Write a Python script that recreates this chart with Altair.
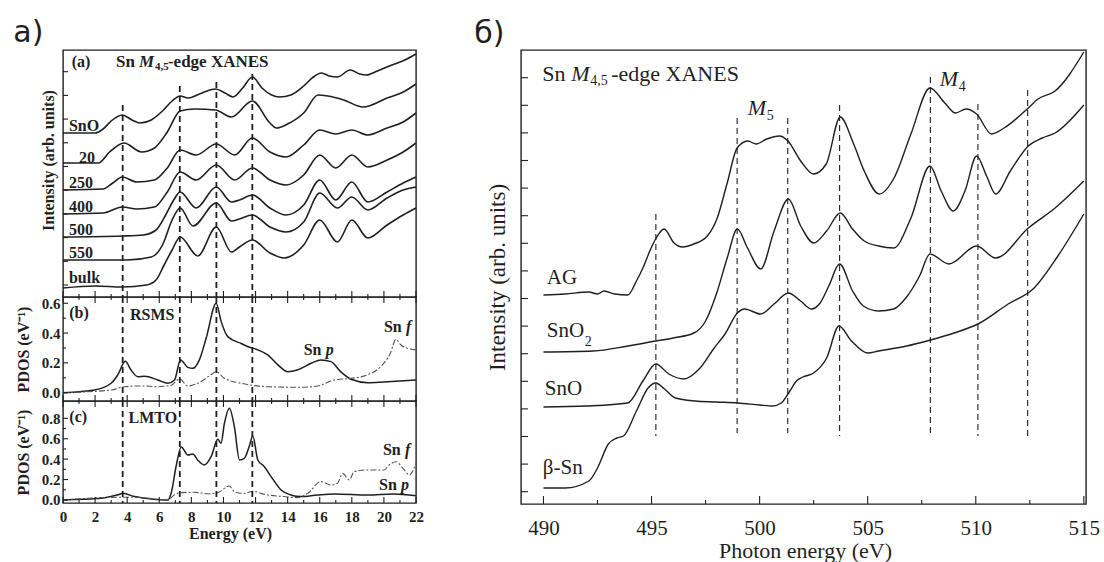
import altair as alt
import pandas as pd

# ---------------- a) (a): Sn M4,5-edge XANES, energy (eV) -> intensity (arb. units)
A_NAMES = ["SnO", "20", "250", "400", "500", "550", "bulk"]
A_SNO_E = [0, 1, 2, 2.5, 3, 3.7, 4.3, 4.8, 5.5, 6.2, 6.8, 7.3, 7.8, 8.5, 9.5, 10.1, 10.6, 11.2, 11.8, 12.4, 13, 13.5, 14.2, 15, 15.6, 16.1, 16.6, 17.1, 17.9, 18.5, 18.9, 19.6, 20.5, 21.3, 22]
A_SNO_I = [164, 164, 164, 168, 176, 182, 177, 174, 177, 186, 196, 201, 199, 203, 208, 204, 200, 209, 220, 209, 202, 200, 202, 211, 220, 224, 221, 220, 227, 223, 222, 226, 232, 237, 243]
A_20_E = [0, 2.2, 2.9, 3.8, 4.9, 5.7, 6.5, 7.3, 8.2, 9.5, 10.5, 11.8, 12.9, 13.3, 14, 15, 15.9, 16.5, 17.5, 18.7, 20.2, 21.2, 22]
A_20_I = [134, 134, 145, 154, 145, 149, 165, 186, 188, 187, 180, 196, 174, 169, 173, 184, 202, 201, 197, 190, 199, 205, 213]
A_250_E = [0, 2.5, 3.1, 3.7, 4.6, 5.7, 6.5, 7.3, 8.3, 9.55, 10.7, 11.8, 12.9, 13.9, 15, 16, 17, 18, 19, 20.2, 21.2, 22]
A_250_I = [107, 108, 114, 120, 115, 117, 129, 147, 142, 153, 142, 159, 145, 140, 152, 167, 163, 167, 162, 169, 175, 184]
A_400_E = [0, 2.5, 3.7, 4.6, 5.7, 6.5, 7.3, 8.3, 9.55, 10.7, 11.8, 12.9, 13.9, 15, 16, 17, 18, 19, 20.2, 21.2, 22]
A_400_I = [83, 84, 90, 88, 90, 105, 125, 117, 132, 117, 129, 117, 112, 122, 142, 129, 142, 130, 137, 145, 154]
A_500_E = [0, 3.7, 5, 5.8, 6.4, 6.9, 7.3, 8.3, 9.55, 10.5, 11, 11.8, 12.9, 13.9, 15, 16, 17, 18, 19, 20.2, 21.2, 22]
A_500_I = [60, 61, 62, 67, 82, 97, 105, 89, 110, 95, 97, 102, 89, 82, 92, 117, 97, 115, 95, 105, 114, 120]
A_550_E = [0, 4, 5.5, 6.2, 6.8, 7.3, 8.1, 9.55, 10.5, 11, 11.8, 12.9, 13.9, 15, 16, 17.1, 18, 19, 20.2, 21.2, 22]
A_550_I = [37, 37, 40, 52, 77, 89, 71, 94, 76, 78, 82, 70, 65, 75, 104, 89, 100, 87, 99, 107, 110]
A_BULK_E = [0, 2, 3.7, 5.2, 5.8, 6.3, 6.8, 7.3, 8.4, 9.55, 10.5, 11, 11.8, 12.9, 13.8, 15, 16, 17.1, 18, 19, 20.2, 21.2, 22]
A_BULK_I = [9, 11, 10, 12, 17, 32, 47, 60, 41, 70, 45, 50, 57, 44, 39, 52, 77, 55, 77, 59, 72, 82, 89]
A_LABEL_E = [0.37, 1.0, 0.37, 0.37, 0.37, 0.37, 0.37]
A_LABEL_I = [171, 139, 114, 90, 67, 44, 19]
A_YTICKS = [12, 35.7, 59.4, 83.1, 106.8, 130.5, 154.2, 177.9, 201.6, 225.3]

# dashed guide lines (left figure)
L_DASH_E = [3.72, 7.28, 9.56, 11.8]
L_DASH_TOP = [192, 211, 215, 223]

# ---------------- a) (b): RSMS PDOS (eV^-1)
B_P_E = [0, 1.97, 3.0, 3.42, 3.88, 4.25, 4.67, 5.08, 5.91, 6.54, 6.95, 7.32, 7.78, 8.09, 8.5, 8.92, 9.55, 9.85, 10.27, 11.1, 11.5, 12.14, 12.76, 13.4, 14.0, 14.6, 15.46, 16.08, 16.7, 17.3, 17.95, 19.0, 20.0, 22.0]
B_P = [0.0, 0.018, 0.063, 0.12, 0.21, 0.15, 0.107, 0.11, 0.085, 0.063, 0.085, 0.22, 0.17, 0.163, 0.22, 0.365, 0.6, 0.48, 0.376, 0.33, 0.31, 0.287, 0.253, 0.186, 0.141, 0.152, 0.197, 0.22, 0.208, 0.141, 0.09, 0.067, 0.072, 0.085]
B_F_E = [0, 3.0, 3.84, 4.88, 5.9, 6.74, 7.26, 7.78, 8.4, 9.23, 9.54, 10.06, 11.1, 12.76, 14.83, 15.87, 16.9, 17.95, 19.0, 19.8, 20.4, 20.75, 21.06, 21.47, 22.0]
B_F = [0.0, 0.018, 0.04, 0.045, 0.04, 0.05, 0.092, 0.045, 0.063, 0.12, 0.141, 0.096, 0.063, 0.04, 0.036, 0.045, 0.085, 0.096, 0.12, 0.175, 0.264, 0.358, 0.32, 0.298, 0.287]

# ---------------- a) (c): LMTO PDOS (eV^-1)
C_P_E = [0, 2.4, 3.42, 3.73, 4.46, 5.5, 6.54, 6.74, 7.05, 7.37, 7.78, 8.09, 8.4, 8.82, 9.23, 9.65, 9.85, 10.06, 10.37, 10.68, 11.0, 11.3, 11.6, 11.83, 12.14, 12.55, 12.97, 13.59, 14.2, 14.8, 15.87, 16.9, 19.0, 20.6, 22.0]
C_P = [0.0, 0.016, 0.05, 0.065, 0.033, 0.01, 0.0, 0.065, 0.33, 0.52, 0.44, 0.45, 0.39, 0.343, 0.424, 0.594, 0.555, 0.75, 0.9, 0.718, 0.392, 0.408, 0.522, 0.627, 0.392, 0.326, 0.228, 0.098, 0.049, 0.033, 0.049, 0.059, 0.049, 0.059, 0.04]
C_F_E = [0, 3.42, 4.46, 6.54, 6.95, 7.37, 8.2, 9.03, 9.65, 10.37, 10.68, 11.3, 11.83, 12.55, 13.8, 14.6, 15.25, 16.08, 16.7, 17.1, 17.43, 17.84, 18.15, 19.0, 20.0, 20.33, 20.75, 21.27, 21.58, 22.0]
C_F = [0.0, 0.026, 0.026, 0.0, 0.05, 0.072, 0.075, 0.06, 0.072, 0.137, 0.08, 0.065, 0.085, 0.055, 0.033, 0.023, 0.065, 0.18, 0.147, 0.163, 0.26, 0.196, 0.278, 0.294, 0.294, 0.343, 0.375, 0.294, 0.245, 0.36]

# ---------------- б): Sn M4,5-edge XANES, photon energy (eV) -> intensity (arb. units)
R_NAMES = ["AG", "SnO2", "SnO", "β-Sn"]
R_AG_E = [490, 491, 492.1, 492.5, 492.8, 493.3, 493.9, 494.3, 494.6, 494.98, 495.19, 495.58, 496.04, 496.43, 496.96, 497.58, 498.04, 498.5, 498.96, 499.45, 499.84, 500.33, 500.92, 501.31, 501.9, 502.49, 503.08, 503.73, 504.35, 504.84, 505.53, 506.22, 507.0, 507.88, 508.57, 509.06, 509.55, 510.04, 510.73, 511.31, 512.43, 512.88, 513.67, 515.0]
R_AG_I = [209, 210, 212, 210, 213, 210, 209, 223, 236, 256, 265, 275, 261, 257, 260, 268, 286, 321, 356, 363, 360, 365, 368, 363, 343, 330, 340, 387, 360, 333, 310, 326, 370, 416, 401, 391, 395, 390, 370, 376, 396, 405, 413, 452]
R_SNO2_E = [490, 492.3, 493.9, 495.2, 496.0, 496.96, 497.5, 498.0, 498.5, 498.97, 499.44, 500.05, 500.67, 501.33, 501.9, 502.5, 503.1, 503.73, 504.3, 504.84, 505.5, 506.2, 507.0, 507.88, 508.4, 508.96, 509.5, 510.04, 510.5, 510.92, 511.6, 512.43, 513.08, 513.67, 515.0]
R_SNO2_I = [152, 153, 158, 163, 166, 171, 183, 210, 246, 275, 256, 235, 273, 305, 278, 261, 273, 291, 275, 263, 258, 256, 286, 338, 313, 293, 313, 348, 328, 310, 333, 358, 366, 371, 399]
R_SNO_E = [490, 492, 493.9, 494.6, 495.2, 495.8, 496.5, 497.2, 497.9, 498.4, 498.97, 499.3, 500.05, 500.67, 501.33, 501.9, 502.4, 502.8, 503.2, 503.7, 504.3, 504.8, 505.5, 506.2, 506.8, 507.4, 507.88, 508.76, 510.04, 510.92, 512.43, 513.67, 515.0]
R_SNO_I = [97, 98, 101, 123, 140, 130, 125, 135, 156, 170, 191, 195, 190, 200, 211, 203, 195, 201, 218, 240, 213, 198, 193, 195, 207, 228, 250, 240, 258, 246, 276, 296, 323]
R_BSN_E = [490, 491, 492.1, 492.5, 493.0, 493.4, 493.7, 494.3, 494.84, 495.2, 495.6, 496.1, 497, 498, 499, 500, 500.6, 501.0, 501.4, 501.7, 502.0, 502.5, 503.1, 503.67, 504.25, 505.0, 505.5, 506.8, 507.9, 509, 510.1, 511.5, 512.7, 513.8, 515.0]
R_BSN_I = [16, 16, 23, 36, 60, 66, 68, 93, 116, 121, 115, 106, 103, 102, 101, 99, 98, 101, 113, 123, 127, 131, 146, 178, 163, 151, 153, 158, 164, 171, 180, 200, 216, 248, 290]
R_YTICKS = [12.3, 39.9, 67.5, 95.1, 122.7, 150.3, 177.9, 205.5, 233.1, 260.7, 288.3, 315.9, 343.5, 371.1, 398.7, 426.3]
R_DASH_E = [495.2, 498.96, 501.3, 503.7, 507.9, 510.1, 512.4]
R_DASH_TOP = [290, 386, 386, 399, 427, 400, 414]
R_DASH_BOT = [68, 71, 71, 68, 71, 68, 68]

SERIF = "Liberation Serif"
SANS = "DejaVu Sans"
INK = "#1f1f1f"
GREY = "#555555"

WL, HA, HB, HC = 353, 247, 104, 102
WR, HR = 565, 454

LX = alt.Scale(domain=[0, 22], nice=False, zero=False)
YA = alt.Scale(domain=[0, 247], nice=False, zero=False)
YB = alt.Scale(domain=[-0.056, 0.642], nice=False, zero=False)
YC = alt.Scale(domain=[-0.03, 0.97], nice=False, zero=False)
RX = alt.Scale(domain=[488.96, 515.1], nice=False, zero=False)
RY = alt.Scale(domain=[0, 454], nice=False, zero=False)


def long_df(names, es, vs):
    rows = []
    for n, e_list, v_list in zip(names, es, vs):
        for e, v in zip(e_list, v_list):
            rows.append({"s": n, "E": e, "v": v})
    return pd.DataFrame(rows)


def txt(rows, X, Y, size, weight="normal", style="normal", align="left", dx=0, dy=0, font=SERIF):
    df = pd.DataFrame(rows, columns=["E", "v", "t"])
    return alt.Chart(df).mark_text(font=font, fontSize=size, fontWeight=weight, fontStyle=style,
                                   align=align, baseline="middle", dx=dx, dy=dy, color=INK).encode(
        x=X, y=Y, text="t:N")


def xticks(vals, X, y_from, y_to, w=1.1):
    return alt.Chart(pd.DataFrame({"E": vals})).mark_rule(color=INK, strokeWidth=w).encode(
        x=X, y=alt.value(y_from), y2=alt.value(y_to))


def yticks(vals, Y, length, w=1.1):
    return alt.Chart(pd.DataFrame({"v": vals})).mark_rule(color=INK, strokeWidth=w).encode(
        y=Y, x=alt.value(0), x2=alt.value(length))


EVEN = list(range(0, 23, 2))
ODD = list(range(1, 22, 2))

# ---------- panel (a)
XA = alt.X("E:Q", scale=LX, axis=None)
YAe = alt.Y("v:Q", scale=YA, axis=alt.Axis(title="Intensity (arb. units)", labels=False, ticks=False,
                                           domain=False, grid=False, titleFont=SERIF, titleFontSize=16,
                                           titleFontWeight="bold", titleColor=INK, titleX=-15, titleY=110,
                                           titleAngle=270, titleBaseline="middle", titleAlign="center"))
a_df = long_df(A_NAMES, [A_SNO_E, A_20_E, A_250_E, A_400_E, A_500_E, A_550_E, A_BULK_E],
               [A_SNO_I, A_20_I, A_250_I, A_400_I, A_500_I, A_550_I, A_BULK_I])
a_lines = alt.Chart(a_df).mark_line(color=INK, strokeWidth=1.6, interpolate="monotone").encode(
    x=XA, y=YAe, detail="s:N")
a_dash = alt.Chart(pd.DataFrame({"E": L_DASH_E, "v": L_DASH_TOP})).mark_rule(
    color=INK, strokeWidth=1.8, strokeDash=[6, 4]).encode(x=XA, y=YAe, y2=alt.datum(0))
a_layers = [
    a_lines, a_dash,
    yticks(A_YTICKS, YAe, 5),
    xticks(EVEN, XA, HA, HA - 6), xticks(ODD, XA, HA, HA - 3),
    txt(list(zip(A_LABEL_E, A_LABEL_I, A_NAMES)), XA, YAe, 16, "bold"),
    txt([(1.12, 235, "(a)")], XA, YAe, 16, "bold", align="center"),
    txt([(3.3, 235, "Sn")], XA, YAe, 17, "bold"),
    txt([(3.3, 235, "M")], XA, YAe, 17, "bold", "italic", dx=23),
    txt([(3.3, 235, "4,5")], XA, YAe, 11, "bold", dx=39, dy=5),
    txt([(3.3, 235, "-edge XANES")], XA, YAe, 17, "bold", dx=52),
    txt([(-3.1, 264, "a)")], XA, YAe, 30, font=SANS),
]
panel_a = alt.layer(*a_layers).properties(width=WL, height=HA)

# ---------- panel (b)
XB = alt.X("E:Q", scale=LX, axis=None)
YBe = alt.Y("v:Q", scale=YB, axis=alt.Axis(values=[0, 0.2, 0.4, 0.6], format=".1f", labelFont=SERIF,
                                           labelFontSize=15, labelFontWeight="bold", labelColor=INK,
                                           labelPadding=3, ticks=False, domain=False, grid=False,
                                           title="PDOS (eV⁻¹)", titleFont=SERIF, titleFontSize=16,
                                           titleFontWeight="bold", titleColor=INK, titleX=-40, titleY=HB / 2,
                                           titleAngle=270, titleBaseline="middle", titleAlign="center"))
b_p = alt.Chart(pd.DataFrame({"E": B_P_E, "v": B_P})).mark_line(
    color=INK, strokeWidth=1.5, interpolate="monotone").encode(x=XB, y=YBe)
b_f = alt.Chart(pd.DataFrame({"E": B_F_E, "v": B_F})).mark_line(
    color=GREY, strokeWidth=1.1, strokeDash=[6, 2, 2, 2], interpolate="monotone").encode(x=XB, y=YBe)
b_dash = alt.Chart(pd.DataFrame({"E": L_DASH_E})).mark_rule(
    color=INK, strokeWidth=1.8, strokeDash=[6, 4]).encode(x=XB)
b_layers = [
    b_p, b_f, b_dash,
    yticks([0, 0.2, 0.4, 0.6], YBe, 5), yticks([0.1, 0.3, 0.5], YBe, 3),
    xticks(EVEN, XB, HB, HB - 6), xticks(ODD, XB, HB, HB - 3),
    xticks(EVEN, XB, 0, 6), xticks(ODD, XB, 0, 3),
    txt([(1.0, 0.535, "(b)")], XB, YBe, 16, "bold", align="center"),
    txt([(5.56, 0.52, "RSMS")], XB, YBe, 16, "bold", align="center"),
    txt([(15.0, 0.287, "Sn"), (20.0, 0.44, "Sn")], XB, YBe, 16, "bold"),
    txt([(15.0, 0.287, "p"), (20.0, 0.44, "f")], XB, YBe, 16, "bold", "italic", dx=22),
]
panel_b = alt.layer(*b_layers).properties(width=WL, height=HB)

# ---------- panel (c)
XC = alt.X("E:Q", scale=LX, axis=alt.Axis(values=EVEN, format="d", labelFont=SERIF, labelFontSize=15,
                                          labelFontWeight="bold", labelColor=INK, labelPadding=6,
                                          labelFlush=False, labelOverlap=False, ticks=False, domain=False,
                                          grid=False, title="Energy (eV)", titleFont=SERIF, titleFontSize=16,
                                          titleFontWeight="bold", titleColor=INK, titleX=167, titleY=30,
                                          titleBaseline="middle", titleAlign="center"))
YCe = alt.Y("v:Q", scale=YC, axis=alt.Axis(values=[0, 0.2, 0.4, 0.6, 0.8], format=".1f", labelFont=SERIF,
                                           labelFontSize=15, labelFontWeight="bold", labelColor=INK,
                                           labelPadding=3, ticks=False, domain=False, grid=False,
                                           title="PDOS (eV⁻¹)", titleFont=SERIF, titleFontSize=16,
                                           titleFontWeight="bold", titleColor=INK, titleX=-40, titleY=HC / 2,
                                           titleAngle=270, titleBaseline="middle", titleAlign="center"))
c_p = alt.Chart(pd.DataFrame({"E": C_P_E, "v": C_P})).mark_line(
    color=INK, strokeWidth=1.5, interpolate="monotone").encode(x=XC, y=YCe)
c_f = alt.Chart(pd.DataFrame({"E": C_F_E, "v": C_F})).mark_line(
    color=GREY, strokeWidth=1.1, strokeDash=[6, 2, 2, 2], interpolate="monotone").encode(x=XC, y=YCe)
c_dash = alt.Chart(pd.DataFrame({"E": L_DASH_E})).mark_rule(
    color=INK, strokeWidth=1.8, strokeDash=[6, 4]).encode(x=XC)
c_layers = [
    c_p, c_f, c_dash,
    yticks([0, 0.2, 0.4, 0.6, 0.8], YCe, 5), yticks([0.1, 0.3, 0.5, 0.7], YCe, 3),
    xticks(EVEN, XC, HC, HC - 6), xticks(ODD, XC, HC, HC - 3),
    xticks(EVEN, XC, 0, 6), xticks(ODD, XC, 0, 3),
    txt([(0.95, 0.81, "(c)")], XC, YCe, 16, "bold", align="center"),
    txt([(5.6, 0.80, "LMTO")], XC, YCe, 16, "bold", align="center"),
    txt([(19.94, 0.49, "Sn"), (19.7, 0.147, "Sn")], XC, YCe, 16, "bold"),
    txt([(19.94, 0.49, "f"), (19.7, 0.147, "p")], XC, YCe, 16, "bold", "italic", dx=22),
]
panel_c = alt.layer(*c_layers).properties(width=WL, height=HC)

# ---------- panel б)
XR = alt.X("E:Q", scale=RX, axis=alt.Axis(values=list(range(490, 516, 5)), format="d", labelFont=SERIF,
                                          labelFontSize=21, labelColor=INK, labelPadding=13, labelFlush=False,
                                          labelOverlap=False, ticks=False, domain=False, grid=False,
                                          title="Photon energy (eV)", titleFont=SERIF, titleFontSize=22,
                                          titleFontWeight="normal", titleColor=INK, titleX=284, titleY=46,
                                          titleBaseline="middle", titleAlign="center"))
YR = alt.Y("v:Q", scale=RY, axis=alt.Axis(labels=False, ticks=False, domain=False, grid=False,
                                          title="Intensity (arb. units)", titleFont=SERIF, titleFontSize=23,
                                          titleFontWeight="normal", titleColor=INK, titleX=-24, titleY=HR / 2,
                                          titleAngle=270, titleBaseline="middle", titleAlign="center"))
r_df = long_df(R_NAMES, [R_AG_E, R_SNO2_E, R_SNO_E, R_BSN_E], [R_AG_I, R_SNO2_I, R_SNO_I, R_BSN_I])
r_lines = alt.Chart(r_df).mark_line(color=INK, strokeWidth=1.4, interpolate="monotone").encode(
    x=XR, y=YR, detail="s:N")
r_dash = alt.Chart(pd.DataFrame({"E": R_DASH_E, "v": R_DASH_TOP, "b": R_DASH_BOT})).mark_rule(
    color=INK, strokeWidth=1.1, strokeDash=[6, 4]).encode(x=XR, y=YR, y2="b:Q")
r_layers = [
    r_lines, r_dash,
    yticks(R_YTICKS, YR, 7),
    xticks(list(range(490, 516, 5)), XR, HR, HR - 8),
    xticks([492.5, 497.5, 502.5, 507.5, 512.5], XR, HR, HR - 4),
    txt([(489.94, 430, "Sn")], XR, YR, 22),
    txt([(489.94, 430, "M")], XR, YR, 22, style="italic", dx=29),
    txt([(489.94, 430, "4,5")], XR, YR, 14, dx=48, dy=7),
    txt([(489.94, 430, "-edge XANES")], XR, YR, 22, dx=69),
    txt([(499.45, 396, "M"), (508.33, 425, "M")], XR, YR, 22, style="italic"),
    txt([(499.45, 396, "5"), (508.33, 425, "4")], XR, YR, 14, dx=19, dy=8),
    txt([(490.15, 226, "AG"), (490.15, 173, "SnO"), (490.06, 115, "SnO"), (489.97, 36, "β-Sn")], XR, YR, 21),
    txt([(490.15, 173, "2")], XR, YR, 14, dx=38, dy=11),
    txt([(486.8, 470, "б)")], XR, YR, 30, font=SANS),
]
panel_r = alt.layer(*r_layers).properties(width=WR, height=HR)

left = alt.vconcat(panel_a, panel_b, panel_c, spacing=0, bounds="flush")
chart = alt.hconcat(left, panel_r, spacing=48, bounds="full").properties(
    padding={"left": 12, "top": 17, "right": 0, "bottom": 0},
    background="white",
).configure_view(stroke=INK, strokeWidth=1.4)

chart.save("out.html", embed_options={"renderer": "svg", "actions": False})
